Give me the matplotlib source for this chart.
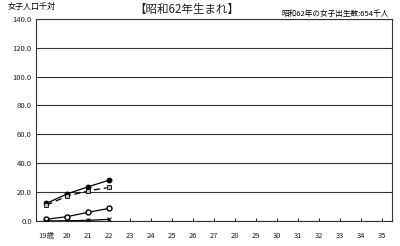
import matplotlib
matplotlib.use("Agg")
import matplotlib.pyplot as plt

plt.rcParams['font.family'] = ['Noto Sans CJK JP', 'DejaVu Sans']

#: data
ages = ["19歳"] + [str(a) for a in range(20, 36)]
filled = [12.2, 18.8, 23.7, 28.3]
dashed = [11.0, 17.2, 20.9, 23.2]
hollow = [1.1, 3.0, 6.0, 8.7]
cross = [0.0, 0.1, 0.4, 1.1]
yticks = [0, 20, 40, 60, 80, 100, 120, 140]

fig = plt.figure(figsize=(4, 2.46), dpi=100)
ax = fig.add_axes([0.09, 0.102, 0.89, 0.821])

x = list(range(len(filled)))
ax.plot(x, filled, color='black', lw=0.9, marker='o', ms=3.2, mfc='black', zorder=4)
ax.plot(x, dashed, color='black', lw=0.9, ls=(0, (5, 3)), marker='s', ms=3,
        mfc='#bbbbbb', mec='black', mew=0.6, zorder=4)
ax.plot(x, hollow, color='black', lw=0.9, marker='o', ms=3.6, mfc='white', zorder=4)
ax.plot(x, cross, color='black', lw=0.9, marker='x', ms=3, mew=0.7, zorder=4)

ax.set_xlim(-0.5, len(ages) - 0.5)
ax.set_ylim(0, 140)
ax.set_yticks(yticks)
ax.set_yticklabels(["%.1f" % v for v in yticks], fontsize=5.5, color='#222222')
ax.set_xticks(range(len(ages)))
ax.set_xticklabels(ages, fontsize=5.5, color='#222222')
ax.tick_params(axis='x', direction='in', length=2.5, width=0.6, pad=8)
ax.tick_params(axis='y', length=0, pad=3)
ax.grid(axis='y', color='#333333', lw=0.8)
ax.set_axisbelow(True)
for s in ax.spines.values():
    s.set_color('#333333')
    s.set_linewidth(0.8)

#: texts around the plot
fig.text(0.018, 0.972, "女子人口千対", fontsize=5.8, va='center', ha='left')
fig.text(0.467, 0.96, "【昭和62年生まれ】", fontsize=8.3, va='center', ha='center',
         color='#222222')
fig.text(0.972, 0.945, "昭和62年の女子出生数:654千人", fontsize=5.5, va='center', ha='right')

fig.savefig("out.png", dpi=100)
